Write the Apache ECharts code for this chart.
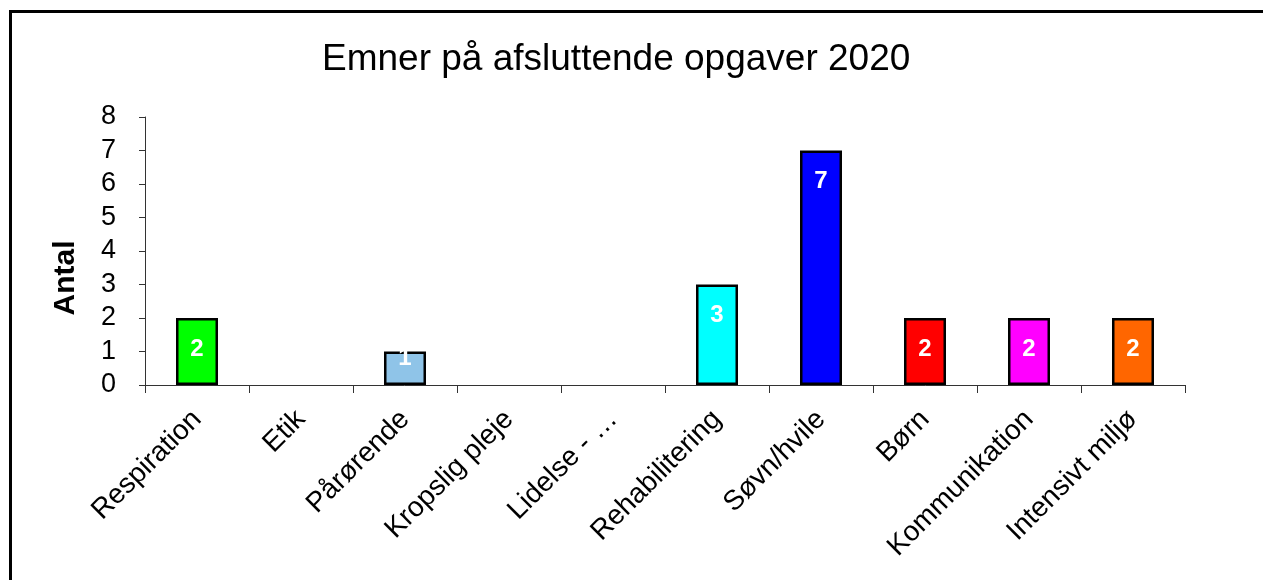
<!DOCTYPE html>
<html>
<head>
<meta charset="utf-8">
<script src="https://cdn.jsdelivr.net/npm/echarts@6/dist/echarts.min.js"></script>
<style>
  html, body { margin: 0; padding: 0; background: #fff; }
  #chart { width: 1263px; height: 580px; }
</style>
</head>
<body>
<div id="chart"></div>
<script>
  var emner = ['Respiration', 'Etik', 'Pårørende', 'Kropslig pleje', 'Lidelse - …',
    'Rehabilitering', 'Søvn/hvile', 'Børn', 'Kommunikation', 'Intensivt miljø'];
  var antal = [2, 0, 1, 0, 0, 3, 7, 2, 2, 2];
  var farver = ['#00ff00', '#00ff00', '#8fc4e8', '#8fc4e8', '#8fc4e8',
    '#00ffff', '#0000ff', '#ff0000', '#ff00ff', '#ff6600'];
  var yTicks = [0, 8, 1]; // min, max, interval

  var font = 'Liberation Sans, Arial, sans-serif';

  var option = {
    animation: false,
    backgroundColor: '#fff',
    title: {
      text: 'Emner på afsluttende opgaver 2020',
      left: 317,
      top: 36,
      textStyle: {fontFamily: font, fontSize: 37, fontWeight: 'normal', color: '#000'}
    },
    graphic: [{
      type: 'rect',
      shape: {x: 10.5, y: 11.5, width: 1300, height: 620},
      style: {fill: 'none', stroke: '#000', lineWidth: 3}
    }],
    grid: {left: 145, right: 78, top: 117, bottom: 195},
    xAxis: {
      type: 'category',
      data: emner,
      axisLine: {lineStyle: {color: '#333', width: 1}},
      axisTick: {show: true, length: 8, lineStyle: {color: '#333'}},
      axisLabel: {
        interval: 0, rotate: 45, margin: 30,
        fontFamily: font, fontSize: 28, color: '#000'
      },
      splitLine: {show: false}
    },
    yAxis: {
      type: 'value',
      min: yTicks[0], max: yTicks[1], interval: yTicks[2],
      name: 'Antal',
      nameLocation: 'middle',
      nameGap: 64,
      nameRotate: 90,
      nameTextStyle: {
        fontFamily: font, fontSize: 30, fontWeight: 'bold', color: '#000',
        padding: [0, 54, 0, 0]
      },
      axisLine: {show: true, lineStyle: {color: '#333', width: 1}},
      axisTick: {show: true, inside: false, length: 6, lineStyle: {color: '#333'}},
      axisLabel: {margin: 29, fontFamily: font, fontSize: 27, color: '#000'},
      splitLine: {show: false}
    },
    series: [{
      type: 'bar',
      barWidth: 42,
      data: antal.map(function (v, i) {
        var item = {value: v, itemStyle: {color: farver[i], borderWidth: v ? 2.5 : 0}};
        // short bars: label sits at the top edge, as in the original
        if (v === 1) item.label = {distance: -5};
        return item;
      }),
      itemStyle: {borderColor: '#000'},
      label: {
        show: true,
        position: 'insideTop',
        distance: 19,
        fontFamily: font, fontSize: 24, fontWeight: 'bold', color: '#fff',
        formatter: function (p) { return p.value ? p.value : ''; }
      }
    }]
  };

  echarts.init(document.getElementById('chart')).setOption(option);
</script>
</body>
</html>
